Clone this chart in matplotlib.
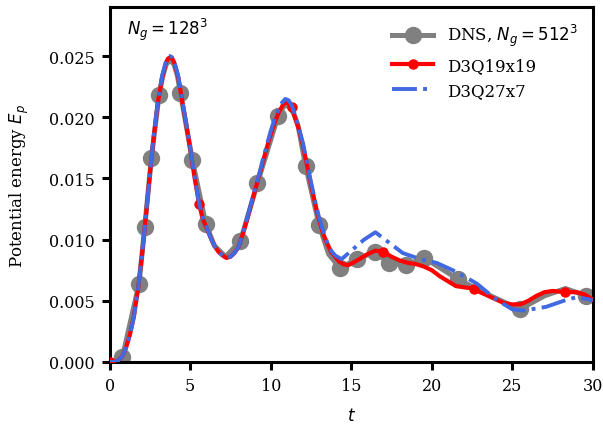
import numpy as np
import matplotlib
matplotlib.use("Agg")
import matplotlib.pyplot as plt

plt.rcParams['font.family'] = ['DejaVu Serif']
plt.rcParams['mathtext.fontset'] = 'dejavusans'
plt.rcParams['font.size'] = 12

# DNS reference, N_g = 512^3 (line through all points, markers only on the sampled ones)
dns_t = [0.0, 0.79, 1.82, 2.17, 2.59, 3.06, 3.3, 3.5, 3.75, 4.0, 4.2, 4.39, 5.13, 5.96,
         6.5, 7.2, 8.12, 9.17, 10.45, 10.7, 10.9, 11.1, 11.4, 11.7, 12.17, 13.0, 13.6,
         14.29, 15.38, 16.46, 17.35, 18.39, 19.52, 21.6, 23.0, 25.47, 27.0, 28.3, 29.6, 30.0]
dns_E = [0.0, 0.0004, 0.0064, 0.0110, 0.0167, 0.0218, 0.0234, 0.0243, 0.0247, 0.0243,
         0.0234, 0.0220, 0.0165, 0.0113, 0.0095, 0.0086, 0.0099, 0.0146, 0.0201, 0.0207,
         0.0210, 0.0209, 0.0204, 0.0193, 0.0160, 0.0112, 0.0088, 0.0077, 0.0084, 0.0090,
         0.0081, 0.0079, 0.0085, 0.0068, 0.0058, 0.0043, 0.0054, 0.0060, 0.0054, 0.0055]
dns_marks = [0.79, 1.82, 2.17, 2.59, 3.06, 4.39, 5.13, 5.96, 8.12, 9.17, 10.45, 12.17,
             13.0, 14.29, 15.38, 16.46, 17.35, 18.39, 19.52, 21.6, 25.47, 29.6]

# D3Q19x19
q19_t = [0.0, 0.25, 0.5, 0.75, 1.0, 1.25, 1.5, 1.75, 2.0, 2.25, 2.5, 2.75, 3.0, 3.25,
         3.5, 3.62, 3.75, 3.88, 4.0, 4.25, 4.5, 4.75, 5.0, 5.25, 5.55, 5.75, 6.0, 6.25,
         6.5, 6.75, 7.0, 7.25, 7.5, 7.75, 8.0, 8.25, 8.5, 8.75, 9.0, 9.25, 9.5, 9.75,
         10.0, 10.25, 10.5, 10.75, 10.9, 11.0, 11.15, 11.3, 11.5, 11.75, 12.0, 12.25,
         12.5, 12.75, 13.0, 13.25, 13.5, 13.75, 14.0, 14.25, 14.5, 14.8, 15.1, 15.5,
         16.0, 16.5, 17.0, 17.5, 18.0, 18.5, 19.0, 19.5, 20.0, 20.5, 21.0, 21.5, 22.0,
         22.6, 23.0, 23.5, 24.0, 24.5, 25.0, 25.5, 26.0, 26.5, 27.0, 27.5, 28.3, 29.0,
         29.5, 30.0]
q19_E = [0.0, 0.0, 0.0001, 0.0004, 0.0011, 0.0022, 0.0037, 0.0059, 0.0087, 0.0120,
         0.0155, 0.0186, 0.0213, 0.0232, 0.0245, 0.0248, 0.0249, 0.0248, 0.0245, 0.0233,
         0.0213, 0.0194, 0.0174, 0.0152, 0.0129, 0.0118, 0.0110, 0.0102, 0.0095, 0.0090,
         0.0087, 0.0085, 0.0086, 0.0089, 0.0094, 0.0104, 0.0115, 0.0127, 0.0139, 0.0151,
         0.0163, 0.0175, 0.0186, 0.0196, 0.0204, 0.0210, 0.0212, 0.0212, 0.0211, 0.0208,
         0.0200, 0.0190, 0.0177, 0.0161, 0.0145, 0.0130, 0.0116, 0.0105, 0.0097, 0.0090,
         0.0086, 0.0082, 0.0080, 0.0079, 0.0081, 0.0084, 0.0088, 0.0091, 0.0090, 0.0086,
         0.0083, 0.0081, 0.0080, 0.0078, 0.0075, 0.0070, 0.0066, 0.0062, 0.0061, 0.0060,
         0.0057, 0.0054, 0.0051, 0.0048, 0.0047, 0.0047, 0.0050, 0.0054, 0.0057, 0.0058,
         0.0057, 0.0057, 0.0055, 0.0051]
q19_marks = [0.0, 5.55, 11.3, 17.0, 22.6, 28.3]

# D3Q27x7
q27_t = [0.0, 0.25, 0.5, 0.75, 1.0, 1.25, 1.5, 1.75, 2.0, 2.25, 2.5, 2.75, 3.0, 3.25,
         3.5, 3.62, 3.75, 3.88, 4.0, 4.25, 4.5, 4.75, 5.0, 5.25, 5.5, 5.75, 6.0, 6.25,
         6.5, 6.75, 7.0, 7.25, 7.5, 7.75, 8.0, 8.25, 8.5, 8.75, 9.0, 9.25, 9.5, 9.75,
         10.0, 10.25, 10.5, 10.7, 10.9, 11.1, 11.3, 11.5, 11.75, 12.0, 12.25, 12.5,
         12.75, 13.0, 13.25, 13.5, 13.75, 14.0, 14.4, 15.1, 15.8, 16.5, 17.2, 18.2, 19.3,
         20.3, 21.3, 22.0, 22.8, 24.0, 25.0, 25.7, 27.1, 28.2, 29.0, 29.8, 30.0]
q27_E = [0.0, 0.0, 0.0001, 0.0004, 0.0011, 0.0022, 0.0037, 0.0059, 0.0087, 0.0120,
         0.0155, 0.0187, 0.0214, 0.0234, 0.0246, 0.0249, 0.0250, 0.0249, 0.0246, 0.0234,
         0.0214, 0.0195, 0.0175, 0.0153, 0.0133, 0.0119, 0.0111, 0.0102, 0.0095, 0.0090,
         0.0087, 0.0085, 0.0086, 0.0089, 0.0094, 0.0104, 0.0116, 0.0128, 0.0140, 0.0152,
         0.0165, 0.0177, 0.0189, 0.0199, 0.0207, 0.0212, 0.0215, 0.0214, 0.0210, 0.0202,
         0.0191, 0.0179, 0.0163, 0.0147, 0.0132, 0.0118, 0.0107, 0.0098, 0.0091, 0.0087,
         0.0084, 0.0092, 0.0100, 0.0106, 0.0099, 0.0089, 0.0084, 0.0081, 0.0075, 0.0070,
         0.0064, 0.0051, 0.0043, 0.0042, 0.0045, 0.0050, 0.0053, 0.0051, 0.0050]

fig = plt.figure(figsize=(6.03, 4.31), dpi=100)
ax = fig.add_axes([0.182, 0.158, 0.801, 0.823])

dns_every = list(np.nonzero(np.isin(dns_t, dns_marks))[0])
q19_every = list(np.nonzero(np.isin(q19_t, q19_marks))[0])

ax.plot(dns_t, dns_E, color='gray', lw=3.6, marker='o', ms=11.5,
        markevery=dns_every, label=r'DNS, $N_g=512^3$', zorder=2)
ax.plot(q19_t, q19_E, color='red', lw=3.0, marker='o', ms=6.5,
        markevery=q19_every, label='D3Q19x19', zorder=3)
ax.plot(q27_t, q27_E, color='royalblue', lw=2.8, ls='-.',
        label='D3Q27x7', zorder=4)

ax.set_xlim(0, 30)
ax.set_ylim(0, 0.029)
ax.set_xticks([0, 5, 10, 15, 20, 25, 30])
ax.set_yticks([0.0, 0.005, 0.010, 0.015, 0.020, 0.025])
ax.yaxis.set_major_formatter(matplotlib.ticker.FormatStrFormatter('%.3f'))
ax.set_xlabel(r'$t$', labelpad=9)
ax.set_ylabel(r'Potential energy $E_p$', labelpad=13)

for sp in ax.spines.values():
    sp.set_linewidth(2.2)
ax.tick_params(direction='out', length=6, width=2.2, pad=5, labelsize=11.5)

ax.text(0.035, 0.975, r'$N_g = 128^3$', transform=ax.transAxes, va='top', ha='left')
ax.legend(loc='upper right', frameon=False, handlelength=2.5)

fig.savefig('out.png', dpi=100)
